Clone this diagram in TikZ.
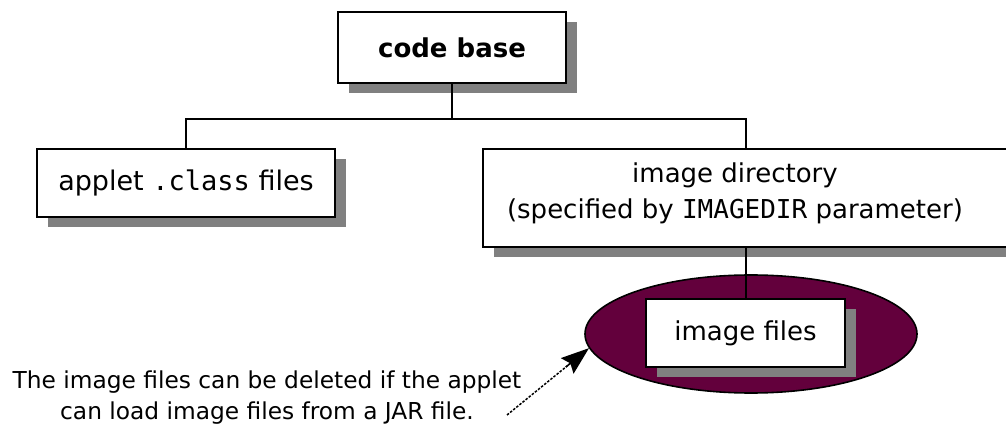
\documentclass[tikz,border=0pt]{standalone}
\usepackage{fontspec}
\setmainfont{DejaVu Sans}
\setmonofont{DejaVu Sans Mono}
\usetikzlibrary{shadows,arrows.meta,shapes.geometric,calc}
\definecolor{poolred}{RGB}{99,0,60}
\definecolor{shadowgray}{RGB}{128,128,128}
\begin{document}
\begin{tikzpicture}[x=1pt,y=-1pt,
  box/.style={draw=black, line width=2.2pt, fill=white, rectangle, inner sep=0pt,
    general shadow={fill=shadowgray, shadow xshift=11pt, shadow yshift=-10pt}},
  link/.style={line width=2pt, draw=black},
  txt/.style={font=\fontsize{26}{36}\selectfont}]
\useasboundingbox (0,0) rectangle (1006,427);
\clip (0,0) rectangle (1006,427);

% top level
\node[box, minimum width=228pt, minimum height=71pt,
      font=\bfseries\fontsize{26}{30}\selectfont] (base) at (452,47.5) {code base};

% second level
\node[box, minimum width=298pt, minimum height=68pt,
      font=\fontsize{27}{36}\selectfont] (applet) at (186,183)
  {applet \texttt{.class} files};
\node[box, minimum width=532pt, minimum height=98pt] (dir) at (749,198) {};
\node[txt, align=center, inner sep=0pt] (dirtext) at (735,193.5)
  {image directory\\(specified by \texttt{IMAGEDIR} parameter)};

% image files inside the removable area
\node[ellipse, draw=black, line width=1.6pt, fill=poolred,
      minimum width=332pt, minimum height=118pt, inner sep=0pt] (pool) at (751,334) {};
\node[box, minimum width=199pt, minimum height=68pt, txt] (files) at (745.5,333) {image files};

% tree connectors
\coordinate (bus) at (452,119);
\draw[link] (base.south) -- (bus);
\draw[link] (applet.north) |- (bus) -| (files.north |- dir.north);
\draw[link] (files.north |- dir.south) -- (files.north);

% note with pointer: dotted shaft, solid head
\node[font=\fontsize{23.3}{31}\selectfont, align=center, inner sep=0pt] (note) at (267,397.5)
  {The image files can be deleted if the applet\\can load image files from a JAR file.};
\coordinate (tail) at (507,415);
\coordinate (tip) at (pool.185);
\draw[line width=1.5pt, dash pattern=on 2.5pt off 1.5pt, shorten >=20pt] (tail) -- (tip);
\draw[line width=1.5pt, -{Stealth[length=28pt,width=20pt,inset=4pt]}]
  ($(tip)!30pt!(tail)$) -- (tip);
\end{tikzpicture}
\end{document}
